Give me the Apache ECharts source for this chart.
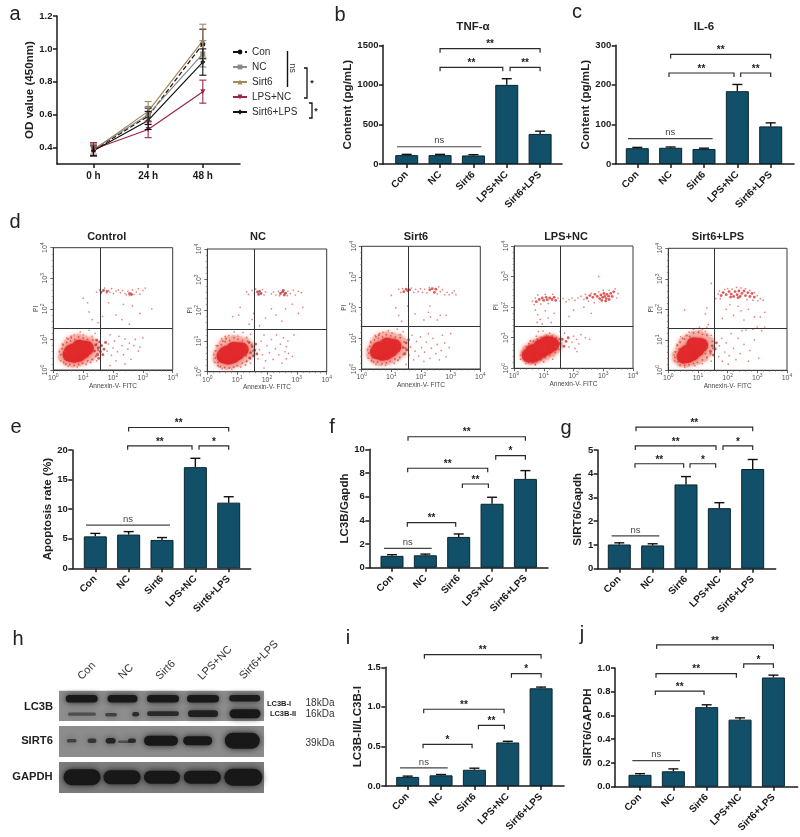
<!DOCTYPE html>
<html><head><meta charset="utf-8">
<script src="https://cdn.jsdelivr.net/npm/echarts@6/dist/echarts.min.js"></script>
<style>html,body{margin:0;background:#fff}#c{width:800px;height:837px}</style></head>
<body><div id="c"></div>
<script>
const FONT='"Liberation Sans",Arial,sans-serif';
const categories=['Con','NC','Sirt6','LPS+NC','Sirt6+LPS'];
// panel a
const timeLabels=['0 h','24 h','48 h'];
const odCon=[0.385,0.59,1.03], odConTop=[0.42,0.64,1.12];
const odNC=[0.39,0.60,0.97], odNCTop=[0.42,0.65,1.05];
const odSirt6=[0.385,0.62,1.05], odSirt6Top=[0.42,0.68,1.15];
const odLPS=[0.39,0.51,0.74], odLPSTop=[0.43,0.56,0.81];
const odSirtLPS=[0.38,0.565,0.92], odSirtLPSTop=[0.41,0.62,1.0];
// bar panels: means and top of error bars
const tnfValues=[112,112,108,1000,380], tnfTops=[122,122,118,1078,415];
const il6Values=[40,41,38,184,95], il6Tops=[42,43,40,201,104];
const apoValues=[5.4,5.7,4.8,17.1,11.1], apoTops=[5.9,6.2,5.2,18.6,12.1];
const lc3Values=[1.0,1.05,2.6,5.4,7.5], lc3Tops=[1.1,1.15,2.85,5.95,8.2];
const sirtValues=[1.02,0.98,3.55,2.55,4.2], sirtTops=[1.09,1.05,3.88,2.78,4.6];
const ratioValues=[0.115,0.135,0.205,0.55,1.235], ratioTops=[0.125,0.145,0.225,0.565,1.25];
const sirtGapValues=[0.10,0.13,0.67,0.565,0.92], sirtGapTops=[0.11,0.15,0.69,0.58,0.94];
// significance brackets: from, to, level, label
const tnfBrackets=[[1,4,1457,'**'],[1,2.88,1222,'**'],[3.1,4,1222,'**'],[-0.29,2.24,218,'ns']];
const il6Brackets=[[1,4,277,'**'],[0.95,2.9,230,'**'],[3.1,4,230,'**'],[-0.28,2.26,64,'ns']];
const apoBrackets=[[1,4,23.8,'**'],[0.97,2.9,20.7,'**'],[3.11,4,20.7,'*'],[-0.28,2.24,7.3,'ns']];
const lc3Brackets=[[0.48,4,11.06,'**'],[0.47,2.87,8.4,'**'],[3.11,4,9.46,'*'],[2.11,2.89,7.07,'**'],[0.46,1.91,3.8,'**'],[-0.24,1.19,1.64,'ns']];
const sirtBrackets=[[0.5,4,5.96,'**'],[0.48,2.9,5.17,'**'],[3.11,4,5.17,'*'],[0.47,1.93,4.42,'**'],[2.12,2.89,4.42,'*'],[-0.23,1.2,1.38,'ns']];
const ratioBrackets=[[0.5,4,1.66,'**'],[3.11,4,1.42,'*'],[0.48,2.89,0.97,'**'],[2.12,2.9,0.767,'**'],[0.46,1.93,0.527,'*'],[-0.23,1.2,0.228,'ns']];
const sirtGapBrackets=[[0.5,4,1.194,'**'],[3.11,4,1.034,'*'],[0.48,2.89,0.952,'**'],[0.46,1.92,0.806,'**'],[-0.23,1.2,0.219,'ns']];
// flow plots, positions in decades of the log axes
const flowTitles=['Control','NC','Sirt6','LPS+NC','Sirt6+LPS'];
const flowTicks=[0,1,2,3,4];
const flowGateX=[1.565,1.575,1.56,1.556,1.564];
const flowGateY=[1.374,1.39,1.38,1.374,1.377];
const controlCore=[[.55,.5],[.7,.47],[.85,.5],[.68,.63],[.85,.64],[1.0,.6],[1.0,.72],[1.12,.72],[.87,.76],[.6,.6]];
const controlHalo=[[.3,.42],[.32,.6],[.42,.78],[.5,.9],[.65,1.0],[.85,1.05],[1.05,1.0],[1.25,.95],[1.4,.85],[1.45,.7],[1.4,.55],[1.25,.42],[1.05,.32],[.85,.25],[.65,.22],[.45,.27]];
const controlSpeck=[[.25,.5],[.3,.7],[.38,.35],[.4,.6],[.45,.9],[.42,.2],[.55,.18],[.58,.95],[.6,1.05],[.7,.15],[.72,1.0],[.85,.18],[.85,1.08],[.98,.22],[1.0,1.05],[1.15,.3],[1.15,1.0],[1.3,.35],[1.32,.98],[1.42,.45],[1.45,.85],[1.5,.65],[.35,.25],[1.25,.25],[.5,1.02],[.33,.82],[1.28,.55],[1.3,.8]];
const controlClump=[[1.38,.62],[1.42,.82],[1.48,.5],[1.5,.72],[1.55,.92],[1.58,.6],[1.62,.8],[1.45,.98],[1.66,.5],[1.7,.68],[1.52,.38],[1.75,.9],[1.6,2.55],[1.68,2.6],[2.55,2.5],[2.62,2.47],[1.8,2.57]];
const controlDots=[[1.45,2.55],[1.55,2.62],[1.6,2.5],[1.72,2.68],[1.78,2.52],[1.85,2.6],[1.9,2.55],[1.95,2.66],[2.02,2.5],[2.1,2.58],[2.18,2.62],[2.25,2.53],[2.32,2.6],[2.4,2.5],[2.45,2.46],[2.5,2.58],[2.55,2.44],[2.6,2.52],[2.65,2.62],[2.7,2.47],[2.78,2.55],[2.85,2.66],[2.9,2.48],[3.0,2.6],[3.08,2.68],[1,2.35],[1.15,2.2],[1.2,1.9],[1.3,1.65],[1.5,1.55],[1.85,2.2],[2.1,1.8],[2.3,1.65],[2.35,2.15],[2.65,2.1],[2.9,1.85],[3.3,2.0],[1.65,1.75],[2.55,1.5],[1.5,.5],[1.55,.75],[1.8,.62],[1.85,.85],[1.9,1.15],[1.95,.48],[2.0,.72],[2.05,.95],[2.1,.3],[2.15,.6],[2.2,1.1],[2.3,.8],[2.35,.5],[2.4,1.02],[2.5,.68],[2.55,.88],[2.6,.35],[2.7,.8],[2.75,1.0],[2.85,.62],[2.9,.75],[3.0,1.05],[2.4,.2],[1.9,.15],[1.2,1.3],[.9,1.25],[1.4,1.2],[.6,1.1],[.25,.3],[.2,.6],[.3,.85],[.45,1.05],[.7,1.15],[1.0,1.15],[1.3,1.1],[.5,.12],[.8,.1],[1.1,.18],[1.45,.3]];
const ncCore=[[.55,.5],[.7,.46],[.85,.5],[.68,.62],[.85,.62],[1.0,.6],[1.02,.72],[1.15,.72],[.88,.74],[.6,.58]];
const ncHalo=[[.32,.4],[.33,.58],[.42,.75],[.52,.92],[.68,1.02],[.88,1.05],[1.08,1.02],[1.28,.98],[1.42,.85],[1.48,.7],[1.4,.55],[1.25,.42],[1.05,.3],[.85,.24],[.65,.2],[.45,.25]];
const ncSpeck=[[.27,.45],[.28,.68],[.36,.3],[.42,.62],[.47,.88],[.44,.17],[.58,.14],[.6,.98],[.63,1.08],[.74,.12],[.75,1.02],[.88,.16],[.9,1.1],[1.0,.2],[1.03,1.06],[1.17,.28],[1.18,1.02],[1.32,.34],[1.35,1.0],[1.44,.42],[1.48,.88],[1.52,.68],[.36,.2],[1.28,.22],[.52,1.0],[.35,.85],[1.3,.52],[1.32,.82]];
const ncClump=[[1.45,.62],[1.5,.82],[1.55,.52],[1.58,.7],[1.62,.9],[1.42,.45],[1.66,.58],[1.4,.95],[1.75,2.62],[1.8,2.55],[1.72,2.52],[1.68,2.6],[2.45,2.55],[2.52,2.6],[2.58,2.5],[2.62,2.56],[2.55,2.65]];
const ncDots=[[1.32,2.6],[1.38,2.52],[1.5,2.65],[1.58,2.55],[1.62,2.7],[1.85,2.68],[1.9,2.5],[1.95,2.6],[2.15,2.54],[2.22,2.6],[2.3,2.5],[2.38,2.62],[2.42,2.48],[2.68,2.48],[2.7,2.62],[2.78,2.55],[2.88,2.66],[2.95,2.5],[3.05,2.62],[3.15,2.58],[1.05,1.85],[.85,1.8],[1.1,2.1],[1.4,1.55],[1.5,1.7],[1.55,1.9],[1.75,1.5],[1.95,1.75],[2.15,2.05],[2.3,1.85],[2.5,1.65],[2.62,2.05],[2.85,2.2],[3.2,2.1],[3.05,1.9],[1.58,.5],[1.7,.42],[1.75,.72],[1.8,1.0],[1.85,.55],[1.9,1.2],[1.95,.35],[2.0,.85],[2.08,.62],[2.15,1.05],[2.2,.4],[2.28,.75],[2.32,1.2],[2.4,.55],[2.45,.9],[2.5,.28],[2.55,1.1],[2.6,.65],[2.65,.82],[2.7,1.0],[2.65,.42],[2.72,.6],[2.85,.5],[2.9,1.2],[1.9,.12],[1.2,1.28],[.9,1.3],[1.45,1.22],[.6,1.15],[.25,.3],[.22,.55],[.3,.85],[.48,1.08],[.72,1.18],[1.02,1.16],[1.32,1.12],[.5,.1],[.82,.08],[1.12,.15],[1.45,.28]];
const sirt6Core=[[.52,.55],[.68,.5],[.82,.52],[.65,.67],[.82,.66],[.98,.62],[.98,.75],[1.1,.74],[.85,.79],[.58,.65]];
const sirt6Halo=[[.3,.45],[.3,.62],[.4,.8],[.5,.95],[.65,1.05],[.85,1.08],[1.05,1.05],[1.25,1.0],[1.4,.88],[1.45,.72],[1.38,.55],[1.22,.42],[1.03,.33],[.85,.27],[.62,.24],[.43,.3]];
const sirt6Speck=[[.24,.52],[.27,.74],[.36,.36],[.38,.65],[.43,.95],[.4,.24],[.53,.22],[.56,1.0],[.58,1.1],[.68,.17],[.7,1.04],[.83,.2],[.83,1.12],[.96,.25],[.98,1.08],[1.12,.33],[1.13,1.04],[1.28,.38],[1.3,1.02],[1.4,.48],[1.43,.88],[1.48,.68],[.33,.28],[1.22,.28],[.48,1.05],[.31,.86],[1.26,.58],[1.27,.84]];
const sirt6Clump=[[1.4,.7],[1.45,.5],[1.5,.85],[1.52,.62],[1.58,.95],[1.42,2.52],[1.5,2.6],[1.55,2.55],[1.62,2.58],[2.3,2.58],[2.38,2.62],[2.45,2.5],[2.5,2.6]];
const sirt6Dots=[[1.25,2.6],[1.32,2.5],[1.38,2.62],[1.68,2.64],[1.75,2.5],[1.82,2.6],[1.9,2.52],[1.98,2.62],[2.05,2.5],[2.12,2.6],[2.2,2.48],[2.28,2.65],[2.55,2.45],[2.6,2.68],[2.65,2.52],[2.72,2.58],[2.8,2.42],[2.88,2.5],[2.95,2.42],[3.05,2.48],[3.12,2.55],[3.18,2.42],[1.0,2.4],[1.15,2.0],[1.25,1.75],[1.35,1.55],[1.55,2.05],[1.8,1.8],[2.1,1.6],[2.25,1.85],[2.32,1.7],[2.55,1.6],[2.65,1.75],[2.85,1.75],[2.3,2.05],[1.6,.45],[1.65,.72],[1.7,1.1],[1.75,.3],[1.8,.58],[1.85,.9],[1.92,.42],[1.98,1.05],[2.02,.7],[2.1,.25],[2.12,.55],[2.18,.88],[2.25,1.15],[2.3,.35],[2.35,.68],[2.4,1.0],[2.5,.5],[2.55,.8],[2.62,.3],[2.68,.6],[2.72,1.1],[2.8,.85],[2.85,.4],[2.95,.7],[3.0,1.15],[1.5,.15],[1.2,1.3],[.9,1.25],[1.4,1.22],[.6,1.15],[.22,.35],[.2,.62],[.3,.9],[.45,1.1],[.72,1.2],[1.02,1.18],[1.3,1.12],[.48,.15],[.8,.12],[1.1,.18]];
const lpsCore=[[.5,.42],[.65,.42],[.78,.48],[.62,.55],[.8,.6],[.95,.58],[.98,.7],[1.12,.68],[1.2,.8],[1.28,.78],[1.1,.82],[.9,.72]];
const lpsHalo=[[.38,.35],[.35,.48],[.42,.62],[.6,.75],[.72,.82],[.9,.92],[1.1,.98],[1.3,.98],[1.45,.9],[1.5,.75],[1.42,.62],[1.28,.5],[1.1,.42],[.95,.35],[.75,.28],[.55,.25]];
const lpsSpeck=[[.32,.4],[.33,.55],[.4,.25],[.42,.7],[.5,.8],[.5,.2],[.62,.18],[.65,.88],[.75,.22],[.78,.95],[.9,.28],[.92,1.0],[1.05,.35],[1.1,1.05],[1.2,.42],[1.28,1.05],[1.38,.52],[1.42,1.0],[1.5,.62],[1.55,.85],[1.4,.7],[1.52,.95],[.72,.12],[.55,.9]];
const lpsClump=[[.85,2.25],[.95,2.3],[1.0,2.22],[1.08,2.32],[1.12,2.24],[1.2,2.3],[1.28,2.25],[1.35,2.32],[1.4,2.22],[.75,2.18],[2.45,2.3],[2.55,2.38],[2.65,2.32],[2.72,2.42],[2.8,2.35],[2.88,2.28],[2.92,2.4],[2.98,2.32],[3.02,2.45],[3.05,2.35],[3.1,2.28],[3.12,2.42],[3.18,2.36],[3.25,2.45],[3.3,2.35],[3.35,2.5],[2.95,2.22],[3.08,2.2],[3.2,2.25],[1.55,.8],[1.62,.95],[1.68,.72],[1.75,.88],[1.82,1.0]];
const lpsDots=[[.62,2.2],[.68,2.08],[.72,2.3],[.8,2.4],[.9,2.1],[1.05,2.42],[1.15,2.12],[1.3,2.42],[1.48,2.3],[1.55,2.2],[1.65,2.28],[1.75,2.18],[1.85,2.25],[1.95,2.3],[2.05,2.22],[2.15,2.3],[2.25,2.36],[2.35,2.25],[2.4,2.42],[2.5,2.2],[2.6,2.45],[2.7,2.15],[2.85,2.5],[3.0,2.55],[3.2,2.55],[3.4,2.6],[3.5,2.45],[3.45,2.3],[2.85,3.0],[.72,1.9],[.8,1.75],[.88,1.6],[.95,1.45],[1.05,1.88],[1.15,1.65],[1.25,1.5],[1.35,1.8],[.78,1.5],[2.0,1.9],[2.35,2.0],[2.6,1.8],[1.85,1.7],[1.7,1.15],[1.85,.7],[1.95,.85],[2.0,1.05],[2.05,.65],[2.1,.95],[2.18,.8],[2.25,1.1],[2.12,.55],[2.4,1.0],[1.55,1.2],[.82,1.2],[.75,1.05],[.98,1.22],[1.2,1.15],[2.55,.95],[.22,.3],[.22,.42],[.4,.15],[.7,.14],[1.0,.2],[1.3,.3]];
const mixCore=[[.52,.45],[.68,.48],[.82,.55],[.65,.6],[.82,.7],[.98,.68],[.98,.82],[1.1,.82],[.85,.85],[.58,.55]];
const mixHalo=[[.28,.38],[.27,.52],[.38,.72],[.48,.92],[.65,1.05],[.85,1.15],[1.05,1.18],[1.25,1.1],[1.4,.95],[1.42,.75],[1.35,.58],[1.2,.42],[1.0,.33],[.82,.28],[.62,.23],[.42,.25]];
const mixSpeck=[[.22,.42],[.24,.6],[.33,.28],[.36,.7],[.4,.92],[.4,.18],[.55,.16],[.55,1.02],[.62,1.14],[.7,.18],[.72,1.1],[.85,.22],[.85,1.22],[.98,.26],[1.02,1.24],[1.15,.34],[1.15,1.18],[1.3,.42],[1.3,1.15],[1.42,.55],[1.48,.95],[1.5,.72],[1.25,.55],[1.3,.75],[.48,1.05],[.3,.82]];
const mixClump=[[1.85,2.55],[1.95,2.48],[2.05,2.58],[2.12,2.5],[2.2,2.42],[2.25,2.58],[2.32,2.48],[2.38,2.6],[2.42,2.42],[2.48,2.52],[2.55,2.6],[2.6,2.45],[2.68,2.55],[2.75,2.42],[2.82,2.52],[1.78,2.45],[2.1,2.4],[2.35,2.38],[2.9,2.4],[1.42,.62],[1.48,.8],[1.52,.5],[1.58,.7],[1.62,.9]];
const mixDots=[[1.72,2.6],[1.75,2.35],[1.68,2.5],[1.9,2.65],[2.0,2.68],[2.15,2.66],[2.3,2.72],[2.45,2.7],[2.6,2.68],[2.75,2.62],[2.9,2.55],[3.0,2.45],[3.1,2.35],[3.2,2.3],[3.02,2.28],[2.85,2.3],[2.65,2.32],[1.6,2.35],[1.3,2.05],[1.25,1.85],[.55,1.98],[1.45,2.85],[1.82,1.7],[1.95,2.0],[2.08,2.15],[2.2,1.8],[2.35,2.1],[2.45,1.95],[2.55,1.65],[2.7,2.0],[2.9,1.75],[3.1,1.75],[3.25,1.9],[1.35,1.5],[1.3,1.42],[1.7,.45],[1.72,.8],[1.8,1.05],[1.82,.3],[1.9,.6],[1.95,.9],[2.02,.2],[2.05,.48],[2.12,1.2],[2.2,.72],[2.28,.35],[2.35,1.05],[2.42,.55],[2.48,1.3],[2.55,.85],[2.62,1.32],[2.7,.3],[2.75,.65],[2.85,1.35],[2.9,1.0],[3.0,1.42],[3.05,.4],[3.15,1.3],[3.25,1.42],[1.15,1.35],[1.05,1.42],[1.25,1.28],[.85,1.35],[.22,.3],[.2,.5],[.3,.85],[.42,1.1],[.7,1.25],[1.45,1.15],[.55,.1],[.9,.15],[1.15,.22],[1.45,.3]];
const flowCores=[controlCore,ncCore,sirt6Core,lpsCore,mixCore];
const flowHalos=[controlHalo,ncHalo,sirt6Halo,lpsHalo,mixHalo];
const flowSpecks=[controlSpeck,ncSpeck,sirt6Speck,lpsSpeck,mixSpeck];
const flowClumps=[controlClump,ncClump,sirt6Clump,lpsClump,mixClump];
const flowDots=[controlDots,ncDots,sirt6Dots,lpsDots,mixDots];
// western blot, units are blot-image positions: centre x, centre y, width, height, darkness
const blotPanels=[[0,30.3,'#8e8e8e'],[35.3,66.3,'#8c8c8c'],[71.3,102.3,'#7c7c7c']];
const blotBands=[[22.7,8,32,7.5,1],[63.5,8,30,7.5,1],[104,8,32,7.5,1],[144,8,32,7.5,1],[185.7,7.5,31,6.5,.95],
[23,23.5,28,3.2,.5],[52,24,12,3.6,.6],[76.7,23.5,7,4.6,.8],[104,23,32,4.8,.8],[144,23,30,6.8,.9],[186,23,31,9,1],
[12.7,50,10,3.6,.6],[33,50,9,4.6,.7],[51.7,50,10,5.6,.85],[65,51,12,2.4,.5],[73,50,8,4.6,.8],[102,50,34,10,1],[138.7,50,29,9,1],[183.3,50,35,16,1],
[23,86.5,37,16,1],[63,86.5,37,14,1],[103,86.5,36,13,1],[143.3,86.5,37,13,1],[184.3,86.5,38,17,1]];

const dark='#1a1a1a';
const grids=[],xAxes=[],yAxes=[],series=[];
function catFmt(list){return v=>list[Math.round(v)]||'';}
function errorSeries(idx,items,cap,width){
  series.push({type:'custom',xAxisIndex:idx,yAxisIndex:idx,z:4,silent:true,data:items.map(e=>[e[0],e[1],e[2]]),
    renderItem(p,api){const e=items[p.dataIndex],a=api.coord([e[0],e[1]]),b=api.coord([e[0],e[2]]);const col=e[3]||'#111';
      const lower=e[4]!==undefined?api.coord([e[0],e[4]]):null;
      const ch=[{type:'line',shape:{x1:a[0],y1:lower?lower[1]:a[1],x2:b[0],y2:b[1]},style:{stroke:col,lineWidth:width}},
        {type:'line',shape:{x1:b[0]-cap,y1:b[1],x2:b[0]+cap,y2:b[1]},style:{stroke:col,lineWidth:width}}];
      if(lower)ch.push({type:'line',shape:{x1:b[0]-cap,y1:lower[1],x2:b[0]+cap,y2:lower[1]},style:{stroke:col,lineWidth:width}});
      return {type:'group',children:ch};}});
}
function bracketSeries(idx,list){
  series.push({type:'custom',xAxisIndex:idx,yAxisIndex:idx,z:5,silent:true,data:list.map(b=>[b[0],b[2]]),
    renderItem(p,api){const b=list[p.dataIndex],a=api.coord([b[0],b[2]]),c=api.coord([b[1],b[2]]);const ns=b[3]==='ns',d=ns?0:4;
      return {type:'group',children:[
        {type:'polyline',shape:{points:[[a[0],a[1]+d],[a[0],a[1]],[c[0],c[1]],[c[0],c[1]+d]]},style:{stroke:ns?'#444':'#2a2a2a',lineWidth:1.2,fill:null}},
        {type:'text',style:{text:b[3],x:(a[0]+c[0])/2,y:a[1]-(ns?6:4),align:'center',verticalAlign:'middle',font:ns?'9.5px '+FONT:'bold 10px '+FONT,fill:ns?'#444':'#222'}}]};}});
}
const yAxisBase=(name,gap)=>({type:'value',name,nameLocation:'middle',nameGap:gap,nameTextStyle:{fontFamily:FONT,fontWeight:'bold',fontSize:11.6,color:'#222'},
  splitLine:{show:false},axisLine:{show:true,onZero:false,lineStyle:{color:dark,width:1.5}},axisTick:{show:true,length:4,lineStyle:{color:dark,width:1.5}},
  axisLabel:{fontFamily:FONT,fontWeight:'bold',fontSize:9.5,color:'#1a1a1a',margin:4.5}});

// panel a
(function(){
  const idx=grids.length;
  grids.push({left:57,width:183,top:16,height:148});
  const ticks=[0,1,2];
  xAxes.push({gridIndex:idx,type:'value',min:-0.667,max:2.68,splitLine:{show:false},axisLine:{lineStyle:{color:dark,width:1.5},onZero:false},
    axisTick:{show:true,length:4,customValues:ticks,lineStyle:{color:dark,width:1.5}},
    axisLabel:{customValues:ticks,formatter:catFmt(timeLabels),fontFamily:FONT,fontWeight:'bold',fontSize:10,color:'#1a1a1a',margin:7}});
  const yt=[0.4,0.6,0.8,1.0,1.2];
  const y=yAxisBase('OD value (450nm)',16);y.gridIndex=idx;y.min=0.3;y.max=1.2;y.axisTick.customValues=yt;y.axisLabel.customValues=yt;y.axisLabel.formatter=v=>v.toFixed(1);
  yAxes.push(y);
  const sets=[['Con',odCon,odConTop,'#111','circle','dashed'],['NC',odNC,odNCTop,'#8a8a8a','rect','solid'],['Sirt6',odSirt6,odSirt6Top,'#a3885c','triangle','solid'],['LPS+NC',odLPS,odLPSTop,'#9c2548','path://M0,0L10,0L5,10Z','solid'],['Sirt6+LPS',odSirtLPS,odSirtLPSTop,'#111','diamond','solid']];
  const errs=[];
  sets.forEach(s=>{series.push({type:'line',name:s[0],xAxisIndex:idx,yAxisIndex:idx,data:s[1].map((v,i)=>[i,v]),z:3,symbol:s[4],symbolSize:5,
      lineStyle:{color:s[3],width:1.2,type:s[5]},itemStyle:{color:s[3]},animation:false});
    s[1].forEach((v,i)=>errs.push([i,v,s[2][i],s[3],v-(s[2][i]-v)]));});
  errorSeries(idx,errs,3.5,1.1);
})();

const barPanels=[
 {l:383,r:562,t:45.3,b:164,c0:406.7,max:1500,step:500,name:'Content (pg/mL)',gap:16,v:tnfValues,e:tnfTops,br:tnfBrackets,dec:0},
 {l:615.7,r:794,t:45.3,b:164,c0:637.3,max:300,step:100,name:'Content (pg/mL)',gap:16,v:il6Values,e:il6Tops,br:il6Brackets,dec:0},
 {l:72.3,r:250.7,t:450,b:568.3,c0:95.3,max:20,step:5,name:'Apoptosis rate (%)',gap:10,v:apoValues,e:apoTops,br:apoBrackets,dec:0},
 {l:369.3,r:548,t:449.3,b:567.7,c0:392,max:10,step:2,name:'LC3B/Gapdh',gap:10,v:lc3Values,e:lc3Tops,br:lc3Brackets,dec:0},
 {l:597.7,r:775.7,t:450,b:568.7,c0:619.3,max:5,step:1,name:'SIRT6/Gapdh',gap:10,v:sirtValues,e:sirtTops,br:sirtBrackets,dec:0},
 {l:385.3,r:564,t:667.3,b:786,c0:407.7,max:1.5,step:0.5,name:'LC3B-II/LC3B-I',gap:19,v:ratioValues,e:ratioTops,br:ratioBrackets,dec:1},
 {l:615,r:797.7,t:668,b:786.7,c0:640,max:1.0,step:0.2,name:'SIRT6/GAPDH',gap:7,v:sirtGapValues,e:sirtGapTops,br:sirtGapBrackets,dec:1}];
barPanels.forEach(P=>{
  const idx=grids.length,bw=33.35;
  grids.push({left:P.l,width:P.r-P.l,top:P.t,height:P.b-P.t});
  const ticks=[0,1,2,3,4];
  xAxes.push({gridIndex:idx,type:'value',min:(P.l-P.c0)/bw,max:(P.r-P.c0)/bw,splitLine:{show:false},axisLine:{lineStyle:{color:dark,width:1.5},onZero:false},
    axisTick:{show:true,length:4,customValues:ticks,lineStyle:{color:dark,width:1.5}},
    axisLabel:{customValues:ticks,formatter:catFmt(categories),rotate:45,fontFamily:FONT,fontWeight:'bold',fontSize:10,color:'#1a1a1a',margin:9}});
  const y=yAxisBase(P.name,P.gap);y.gridIndex=idx;y.min=0;y.max=P.max;y.interval=P.step;y.axisLabel.formatter=v=>v.toFixed(P.dec);
  yAxes.push(y);
  series.push({type:'bar',xAxisIndex:idx,yAxisIndex:idx,barWidth:23,z:3,data:P.v.map((v,i)=>[i,v]),itemStyle:{color:'#12506a',borderColor:'#0b2530',borderWidth:1},animation:false});
  errorSeries(idx,P.v.map((v,i)=>[i,v,P.e[i]]),5,1.4);
  bracketSeries(idx,P.br);
});

// flow plots
const flowBoxes=[[53.3,172.7,247.7,370],[207.3,326.7,249,371.7],[361.7,480.3,246.3,369],[514,633,246,368.3],[668.3,787,248.3,370.3]];
flowBoxes.forEach((B,k)=>{
  const idx=grids.length;
  grids.push({left:B[0],width:B[1]-B[0],top:B[2],height:B[3]-B[2],show:true,borderColor:'#3a3a3a',borderWidth:1,backgroundColor:'#fff'});
  const rich={a:{fontSize:7,color:'#555',fontFamily:FONT},b:{fontSize:5,color:'#555',fontFamily:FONT,padding:[0,0,5,0]}};
  const axis=(name,gap)=>({gridIndex:idx,type:'value',min:0,max:4,interval:1,name,nameLocation:'middle',nameGap:gap,
    nameTextStyle:{fontFamily:FONT,fontSize:6.5,color:'#444'},splitLine:{show:false},
    axisLine:{lineStyle:{color:'#3a3a3a',width:1},onZero:false},axisTick:{length:3,lineStyle:{color:'#444',width:0.8}},
    minorTick:{show:true,splitNumber:5,length:1.5,lineStyle:{color:'#666',width:0.6}},
    axisLabel:{formatter:v=>'{a|10}{b|'+flowTicks[v]+'}',rich,margin:3}});
  xAxes.push(axis('Annexin-V- FITC',9));
  const y=axis('PI',10);y.axisLabel.rotate=90;yAxes.push(y);
  const s=(data,size,color,opacity,z,blur)=>series.push({type:'scatter',xAxisIndex:idx,yAxisIndex:idx,data,symbolSize:size,z,silent:true,animation:false,itemStyle:{color,opacity,shadowBlur:blur||0,shadowColor:color}});
  s(flowHalos[k],8.5,'#f3b0a6',1,2,4);
  s(flowCores[k],14,'#e12a2c',1,3,3);
  s(flowSpecks[k],1.8,'#d9423d',0.85,3);
  s(flowClumps[k],2.8,k===0||k===1?'#b83236':'#d9302f',0.8,3);
  series.push({type:'scatter',xAxisIndex:idx,yAxisIndex:idx,data:flowDots[k],symbolSize:1.7,z:3,silent:true,animation:false,itemStyle:{color:'#dd5a52',opacity:0.75},
    markLine:{silent:true,animation:false,symbol:'none',label:{show:false},lineStyle:{color:'#333',width:1,type:'solid'},data:[{xAxis:flowGateX[k]},{yAxis:flowGateY[k]}]}});
});

// western blot
(function(){
  const idx=grids.length;
  grids.push({left:59,width:205,top:690.7,height:102.3});
  xAxes.push({gridIndex:idx,type:'value',min:0,max:205,show:false});
  yAxes.push({gridIndex:idx,type:'value',min:0,max:102.3,inverse:true,show:false});
  series.push({type:'custom',xAxisIndex:idx,yAxisIndex:idx,z:2,silent:true,data:blotPanels.map(b=>[0,b[0]]),
    renderItem(p,api){const b=blotPanels[p.dataIndex],a=api.coord([0,b[0]]),c=api.coord([205,b[1]]);
      return {type:'rect',shape:{x:a[0],y:a[1],width:c[0]-a[0],height:c[1]-a[1]},style:{fill:b[2]}};}});
  series.push({type:'custom',xAxisIndex:idx,yAxisIndex:idx,z:3,silent:true,data:blotBands.map(b=>[b[0],b[1]]),
    renderItem(p,api){const b=blotBands[p.dataIndex],c=api.coord([b[0],b[1]]),s=api.size([b[2],b[3]]);
      return {type:'rect',shape:{x:c[0]-s[0]/2,y:c[1]-s[1]/2,width:s[0],height:s[1],r:Math.min(s[0],s[1])/2},
        style:{fill:'rgba(24,24,24,'+b[4]+')',shadowBlur:6,shadowColor:'rgba(20,20,20,'+b[4]*0.9+')'}};}});
})();

const txt=(text,x,y,font,fill,extra)=>Object.assign({type:'text',x,y,silent:true,z:20,style:{text,font,fill:fill||'#222',align:'center',verticalAlign:'middle'}},extra||{});
const bold11='bold 11.5px '+FONT, flowFont='bold 11px '+FONT, blotFont='bold 11.2px '+FONT, letter='20px '+FONT;
const graphics=[
 txt('a',15,14,letter),txt('b',340,15,letter),txt('c',577,12,letter),txt('d',15,222,letter),txt('e',16,427,letter),txt('f',332,427,letter),txt('g',566,428,letter),txt('h',18,639,letter),txt('i',348,638,letter),txt('j',582,634,letter),
 txt('TNF-α',473,27,bold11),txt('IL-6',704,27,bold11),
 txt('Control',106.7,237,flowFont),txt('NC',258,237,flowFont),txt('Sirt6',416,237,flowFont),txt('LPS+NC',566,237,flowFont),txt('Sirt6+LPS',718,237,flowFont),
 txt('Con',86.7,671,'11px '+FONT,'#333',{rotation:Math.PI/4}),txt('NC',126,671.7,'11px '+FONT,'#333',{rotation:Math.PI/4}),txt('Sirt6',165.7,670,'11px '+FONT,'#333',{rotation:Math.PI/4}),txt('LPS+NC',215,663,'11px '+FONT,'#333',{rotation:Math.PI/4}),txt('Sirt6+LPS',259,660,'11px '+FONT,'#333',{rotation:Math.PI/4}),
 txt('LC3B',38.5,707,blotFont),txt('SIRT6',37,741,blotFont),txt('GAPDH',32.5,777,blotFont),
 txt('LC3B-I',279,704,'bold 7.5px '+FONT),txt('LC3B-II',283,714,'bold 7.5px '+FONT),txt('18kDa',320,703.5,'10px '+FONT,'#333'),txt('16kDa',320,714,'10px '+FONT,'#333'),txt('39kDa',320,743,'10px '+FONT,'#333'),
 txt('ns',292,68,'9px '+FONT,'#333',{rotation:-Math.PI/2}),txt('*',312,84,'bold 9px '+FONT),txt('*',316,112,'bold 9px '+FONT),
 {type:'polyline',silent:true,z:20,shape:{points:[[287.5,51],[287.5,87]]},style:{stroke:'#111',lineWidth:1.4,fill:null}},
 {type:'polyline',silent:true,z:20,shape:{points:[[304,68],[307,68],[307,98],[304,98]]},style:{stroke:'#111',lineWidth:1.3,fill:null}},
 {type:'polyline',silent:true,z:20,shape:{points:[[309,103],[312,103],[312,118],[309,118]]},style:{stroke:'#111',lineWidth:1.3,fill:null}}
];

const chart=echarts.init(document.getElementById('c'));
chart.setOption({backgroundColor:'#fff',animation:false,textStyle:{fontFamily:FONT},
  grid:grids,xAxis:xAxes,yAxis:yAxes,series,graphic:graphics,
  legend:{show:true,orient:'vertical',left:232,top:47,padding:0,itemWidth:14,itemHeight:6,itemGap:5,selectedMode:false,
    data:['Con','NC','Sirt6','LPS+NC','Sirt6+LPS'],textStyle:{fontFamily:FONT,fontSize:10,color:'#2a2a2a'}}});
</script></body></html>
